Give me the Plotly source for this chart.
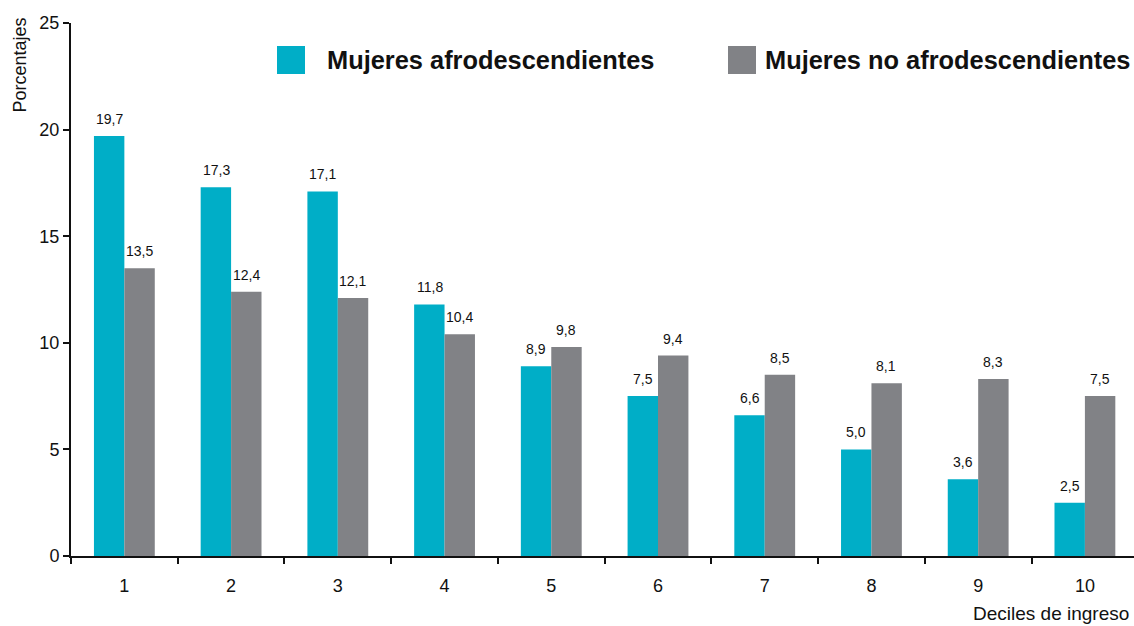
import plotly.graph_objects as go

deciles = ["1", "2", "3", "4", "5", "6", "7", "8", "9", "10"]
afro = [19.7, 17.3, 17.1, 11.8, 8.9, 7.5, 6.6, 5.0, 3.6, 2.5]
no_afro = [13.5, 12.4, 12.1, 10.4, 9.8, 9.4, 8.5, 8.1, 8.3, 7.5]
series_names = ["Mujeres afrodescendientes", "Mujeres no afrodescendientes"]
colors = ["#00AEC7", "#818286"]

def fmt(v):
    return f"{v:.1f}".replace(".", ",")

label_font = dict(family="Liberation Sans Narrow, Arial Narrow, sans-serif", size=14, color="#111")

fig = go.Figure()
for name, vals, col in zip(series_names, [afro, no_afro], colors):
    fig.add_trace(go.Bar(
        x=deciles, y=vals, name=name, marker=dict(color=col, line=dict(width=0)),
        showlegend=False,
    ))

# value labels above bars (category index positions)
for vals, shift in zip([afro, no_afro], [-15, 15]):
    for i, v in enumerate(vals):
        fig.add_annotation(x=i, y=v, text=fmt(v), xref="x", yref="y", showarrow=False,
                           xanchor="center", yanchor="bottom", xshift=shift, yshift=7,
                           font=label_font)

# plot area at x 71-1134, y 23-556 (page body margin removed in post_script)
fig.update_layout(
    width=1134, height=626,
    margin=dict(l=71, r=0, t=23, b=70),
    plot_bgcolor="white", paper_bgcolor="white",
    barmode="group", bargap=0.43, bargroupgap=0,
    font=dict(family="Liberation Sans, Arial, sans-serif", color="#111"),
    xaxis=dict(
        type="category", range=[-0.5, 9.46], showline=True, linecolor="#111", linewidth=2,
        ticks="outside", tickson="boundaries", ticklen=6, tickwidth=2, tickcolor="#111",
        tickfont=dict(size=18), showgrid=False, ticklabelstandoff=12,
    ),
    yaxis=dict(
        range=[0, 25], tickvals=[0, 5, 10, 15, 20, 25], showline=True, linecolor="#111",
        linewidth=2, ticks="outside", ticklen=6, tickwidth=2, tickcolor="#111",
        tickfont=dict(size=18), showgrid=False, zeroline=False,
    ),
)

# Axis titles
fig.add_annotation(text="Porcentajes", xref="paper", yref="paper", x=-0.048, y=1.015,
                   xanchor="center", yanchor="top", textangle=-90, showarrow=False,
                   font=dict(size=18))
fig.add_annotation(text="Deciles de ingreso", xref="paper", yref="paper", x=0.997, y=-0.084,
                   xanchor="right", yanchor="top", showarrow=False, font=dict(size=19))

# Legend (manual)
leg_x = [277, 728]
text_x = [325, 763]
for i in range(2):
    fig.add_shape(type="rect", xref="paper", yref="paper",
                  x0=(leg_x[i] - 71) / 1063, x1=(leg_x[i] + 28 - 71) / 1063,
                  y0=(556 - 74) / 533, y1=(556 - 46) / 533,
                  fillcolor=colors[i], line=dict(width=0))
    fig.add_annotation(text="<b>" + series_names[i] + "</b>", xref="paper", yref="paper",
                       x=(text_x[i] - 71) / 1063, y=(556 - 60) / 533, xanchor="left",
                       yanchor="middle", showarrow=False,
                       font=dict(size=25.4, family="Liberation Sans, Arial, sans-serif", color="#111"))

fig.write_html(
    "out.html",
    config={"displayModeBar": False},
    post_script="document.body.style.margin='0';document.body.style.overflow='hidden';"
                "document.documentElement.style.overflow='hidden';",
)
